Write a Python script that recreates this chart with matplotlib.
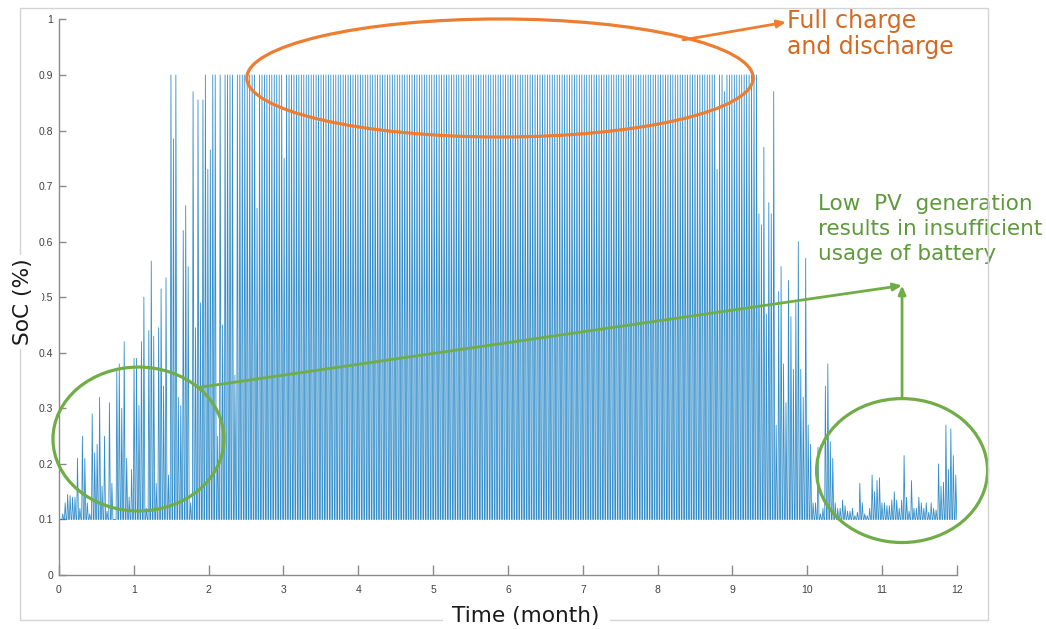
import numpy as np
import matplotlib as mpl
from matplotlib import pyplot as plt
from matplotlib.patches import Ellipse, Rectangle

# ---------------- data ----------------
soc_start = 0.6      # initial SoC at t=0
soc_floor = 0.1      # minimum SoC the battery is discharged to

# daily peak SoC, days 0..62 (Jan - early Mar)
peaks_winter = [
    0.10, 0.11, 0.13, 0.145, 0.143, 0.14, 0.14, 0.21, 0.12, 0.25, 0.21, 0.13, 0.11, 0.29, 0.22, 0.235,
    0.32, 0.16, 0.25, 0.115, 0.31, 0.165, 0.10, 0.37, 0.38, 0.30, 0.42, 0.21, 0.14, 0.19, 0.39, 0.39,
    0.305, 0.42, 0.50, 0.12, 0.44, 0.565, 0.43, 0.165, 0.445, 0.515, 0.34, 0.535, 0.18, 0.90, 0.785, 0.90,
    0.32, 0.305, 0.62, 0.665, 0.555, 0.13, 0.87, 0.445, 0.855, 0.49, 0.855, 0.90, 0.73, 0.765, 0.90,
]

# daily peak SoC, days 63..283 (spring - summer - early autumn)
peaks_summer = [
    0.90, 0.25, 0.90, 0.45, 0.90, 0.90, 0.90, 0.90, 0.36, 0.90, 0.90, 0.90, 0.90, 0.90, 0.90, 0.90,
    0.90, 0.66, 0.90, 0.90, 0.90, 0.90, 0.90, 0.90, 0.90, 0.90, 0.90, 0.90, 0.75, 0.90, 0.90, 0.90,
    0.90, 0.90, 0.90, 0.90, 0.90, 0.90, 0.90, 0.90, 0.90, 0.90, 0.90, 0.90, 0.90, 0.90, 0.90, 0.90,
    0.90, 0.90, 0.90, 0.90, 0.90, 0.90, 0.90, 0.90, 0.90, 0.90, 0.90, 0.90, 0.90, 0.90, 0.90, 0.90,
    0.90, 0.90, 0.90, 0.90, 0.90, 0.90, 0.90, 0.90, 0.90, 0.90, 0.90, 0.90, 0.90, 0.90, 0.90, 0.90,
    0.90, 0.90, 0.90, 0.90, 0.90, 0.90, 0.90, 0.90, 0.90, 0.90, 0.90, 0.90, 0.90, 0.90, 0.90, 0.90,
    0.90, 0.90, 0.90, 0.90, 0.90, 0.90, 0.90, 0.90, 0.90, 0.90, 0.90, 0.90, 0.90, 0.90, 0.90, 0.90,
    0.90, 0.90, 0.90, 0.90, 0.90, 0.90, 0.90, 0.90, 0.90, 0.90, 0.90, 0.90, 0.90, 0.90, 0.90, 0.90,
    0.90, 0.90, 0.90, 0.90, 0.90, 0.90, 0.90, 0.90, 0.90, 0.90, 0.90, 0.90, 0.90, 0.90, 0.90, 0.90,
    0.90, 0.90, 0.90, 0.90, 0.90, 0.90, 0.90, 0.90, 0.90, 0.90, 0.90, 0.90, 0.90, 0.90, 0.90, 0.90,
    0.90, 0.90, 0.90, 0.90, 0.90, 0.90, 0.90, 0.90, 0.90, 0.90, 0.90, 0.90, 0.90, 0.90, 0.90, 0.90,
    0.90, 0.90, 0.90, 0.90, 0.90, 0.90, 0.90, 0.90, 0.90, 0.90, 0.90, 0.90, 0.90, 0.90, 0.90, 0.90,
    0.90, 0.90, 0.90, 0.90, 0.90, 0.90, 0.90, 0.90, 0.90, 0.90, 0.90, 0.90, 0.73, 0.90, 0.90, 0.87,
    0.90, 0.90, 0.90, 0.90, 0.90, 0.90, 0.90, 0.90, 0.90, 0.90, 0.90, 0.90, 0.90,
]

# daily peak SoC, days 284..364 (late autumn - winter)
peaks_autumn = [
    0.65, 0.63, 0.77, 0.47, 0.67, 0.65, 0.87, 0.27, 0.51, 0.555, 0.38, 0.31, 0.53, 0.465, 0.37, 0.49,
    0.60, 0.37, 0.32, 0.57, 0.27, 0.235, 0.13, 0.13, 0.23, 0.11, 0.12, 0.34, 0.38, 0.24, 0.21, 0.13,
    0.12, 0.12, 0.135, 0.125, 0.115, 0.115, 0.12, 0.107, 0.113, 0.165, 0.13, 0.11, 0.107, 0.12, 0.18, 0.15,
    0.17, 0.175, 0.13, 0.13, 0.125, 0.125, 0.135, 0.15, 0.135, 0.12, 0.135, 0.215, 0.14, 0.115, 0.17, 0.12,
    0.12, 0.14, 0.13, 0.12, 0.13, 0.113, 0.13, 0.12, 0.117, 0.20, 0.16, 0.167, 0.27, 0.19, 0.263, 0.215,
    0.18,
]

x_ticks = list(range(0, 13))
y_ticks = [0, 0.1, 0.2, 0.3, 0.4, 0.5, 0.6, 0.7, 0.8, 0.9, 1]
y_ticklabels = ['0', '0.1', '0.2', '0.3', '0.4', '0.5', '0.6', '0.7', '0.8', '0.9', '1']

days_per_year = 365
months_per_year = 12

# ---------------- build the daily charge / discharge trace ----------------
peaks = peaks_winter + peaks_summer + peaks_autumn
t_day = [0.0]
soc = [soc_start]
for d, p in enumerate(peaks):
    t_day += [d + 0.02, d + 0.22, d + 0.50, d + 0.92]
    soc += [soc_floor, soc_floor, p, soc_floor]
t_day.append(days_per_year)
soc.append(soc_floor)
t_month = np.array(t_day) * months_per_year / days_per_year

# ---------------- figure ----------------
mpl.rcParams['font.family'] = 'DejaVu Sans'
W, H = 1046, 629
fig = plt.figure(figsize=(W / 100, H / 100), dpi=100)
ax = fig.add_axes([0.0564, 0.0858, 0.8585, 0.8834])

ax.plot(t_month, soc, color='#0072BD', lw=0.6, alpha=0.8)

ax.set_xlim(0, 12)
ax.set_ylim(0, 1)
ax.set_xticks(x_ticks)
ax.set_yticks(y_ticks)
ax.set_yticklabels(y_ticklabels)
for sp in ['top', 'right']:
    ax.spines[sp].set_visible(False)
for sp in ['left', 'bottom']:
    ax.spines[sp].set_color('#8a8a8a')
    ax.spines[sp].set_linewidth(1.0)
ax.tick_params(axis='both', direction='in', colors='#8a8a8a', labelcolor='#404040',
               labelsize=7.5, width=1.0)
ax.tick_params(axis='x', length=7, pad=7)
ax.tick_params(axis='y', length=5, pad=4)
for lbl in ax.get_xticklabels() + ax.get_yticklabels():
    lbl.set_fontfamily('Liberation Sans')


def px_rect(x0, y0, x1, y1, **kw):
    # rectangle given in pixel coords (origin top-left), placed on the figure
    return Rectangle((x0 / W, 1 - y1 / H), (x1 - x0) / W, (y1 - y0) / H,
                     transform=fig.transFigure, **kw)


# figure frame (light grey border) and white patches behind the axis labels
fig.patches.append(px_rect(20, 8, 988, 620, fill=False, edgecolor='#d4d4d4', lw=1.0, zorder=1))
fig.patches.append(px_rect(443, 603, 610, 629, facecolor='white', edgecolor='none', zorder=2))
fig.patches.append(px_rect(4, 255, 42, 349, facecolor='white', edgecolor='none', zorder=2))

fig.text(526 / W, 1 - 616 / H, 'Time (month)', fontsize=15.6, ha='center',
         va='center', color='#1a1a1a', zorder=3)
fig.text(23 / W, 1 - 302 / H, 'SoC (%)', fontsize=15.6, rotation=90,
         ha='center', va='center', color='#1a1a1a', zorder=3)

# ---------------- annotations ----------------
orange = '#ED7D31'
green = '#70AD47'

ax.add_patch(Ellipse((5.893, 0.8945), 6.766, 0.2124, fill=False, edgecolor=orange,
                     lw=2.3, clip_on=False, zorder=5))
ax.annotate('', xy=(9.715, 0.995), xytext=(8.339, 0.963), annotation_clip=False,
            arrowprops=dict(arrowstyle='-|>,head_length=0.5,head_width=0.22',
                            color=orange, lw=2.0, shrinkA=0, shrinkB=0), zorder=5)
ax.text(9.73, 0.974, 'Full charge\nand discharge', color='#D46A22', fontsize=17,
        ha='left', va='center', linespacing=1.08, clip_on=False)

ax.add_patch(Ellipse((1.062, 0.2448), 2.285, 0.259, fill=False, edgecolor=green,
                     lw=2.3, clip_on=False, zorder=5))
ax.add_patch(Ellipse((11.266, 0.188), 2.285, 0.259, fill=False, edgecolor=green,
                     lw=2.3, clip_on=False, zorder=5))
ax.annotate('', xy=(11.266, 0.521), xytext=(1.884, 0.338), annotation_clip=False,
            arrowprops=dict(arrowstyle='-|>,head_length=0.5,head_width=0.22',
                            color=green, lw=2.0, shrinkA=0, shrinkB=0), zorder=5)
ax.annotate('', xy=(11.266, 0.521), xytext=(11.266, 0.3175), annotation_clip=False,
            arrowprops=dict(arrowstyle='-|>,head_length=0.5,head_width=0.22',
                            color=green, lw=2.0, shrinkA=0, shrinkB=0), zorder=5)
ax.text(10.14, 0.6225, 'Low  PV  generation\nresults in insufficient\nusage of battery',
        color='#5E9A3A', fontsize=15.5, ha='left', va='center', linespacing=1.32,
        clip_on=False)

fig.savefig('out.png', dpi=100)
